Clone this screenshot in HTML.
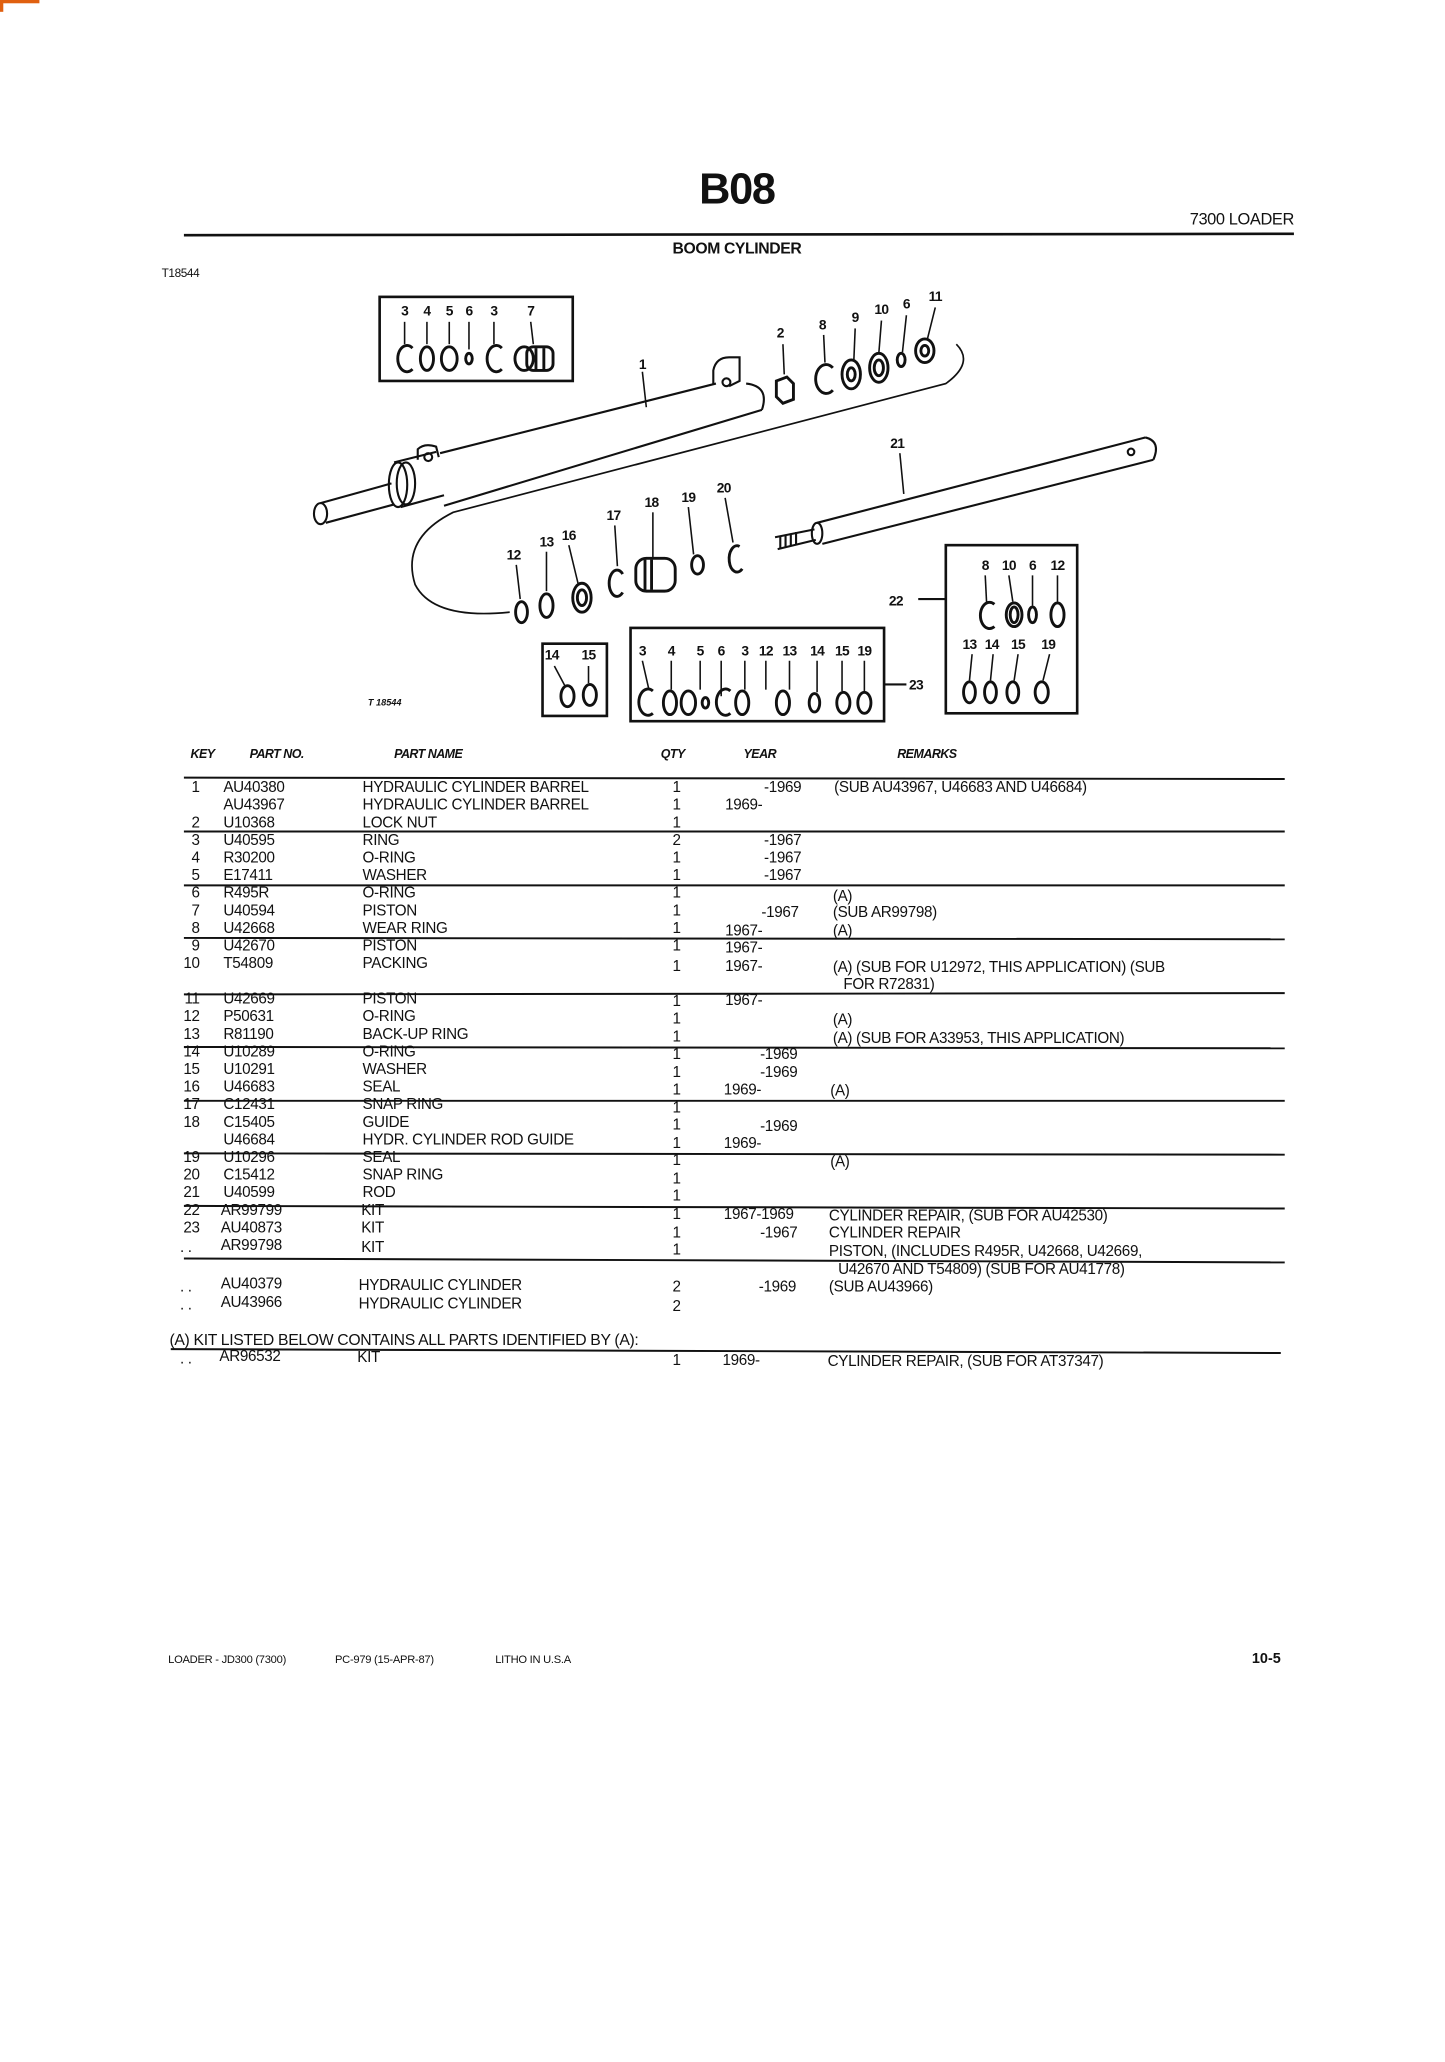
<!DOCTYPE html>
<html><head><meta charset="utf-8"><style>
html,body{margin:0;padding:0;background:#fff;}
svg{display:block;}
text{font-family:"Liberation Sans",sans-serif;fill:#111;}
.t{font-size:11.6px;letter-spacing:-0.25px;}
.n{font-size:10.5px;font-weight:bold;letter-spacing:-0.5px;}
.h{font-size:9.5px;font-style:italic;font-weight:bold;letter-spacing:-0.4px;}
</style></head><body>
<svg width="1445" height="2062" viewBox="0 0 1100 1569.7" xmlns="http://www.w3.org/2000/svg">
<rect x="0" y="0" width="30" height="2.5" fill="#e06010"/>
<rect x="0" y="0" width="2.5" height="9" fill="#e06010"/>
<!-- Header -->
<text x="561" y="155" text-anchor="middle" style="font-size:33px;font-weight:bold;letter-spacing:-1px">B08</text>
<text x="985" y="171" text-anchor="end" style="font-size:12.5px;letter-spacing:-0.3px">7300 LOADER</text>
<line x1="140" y1="179" x2="985" y2="178" stroke="#111" stroke-width="2"/>
<text x="561" y="193" text-anchor="middle" style="font-size:12px;font-weight:bold;letter-spacing:-0.3px">BOOM CYLINDER</text>
<text x="123" y="211" style="font-size:9px;letter-spacing:-0.3px">T18544</text>

<!-- Diagram -->
<g fill="none" stroke="#111" stroke-width="1.6">
<rect x="289" y="226" width="147" height="64" stroke-width="2"/>
<path d="M335,345 L545,292 M338,385 L580,312"/>
<path d="M568,292 q18,2 12,20"/>
<path d="M543,292 l0,-10 q2,-10 12,-10 l8,0 l0,18 l-8,4"/>
<circle cx="553" cy="291" r="3"/>
<path d="M300,352 l32,-8 M305,386 l33,-9"/>
<ellipse cx="303" cy="369" rx="7" ry="17"/>
<ellipse cx="309" cy="368" rx="7" ry="16"/>
<path d="M318,350 l0,-8 q5,-5 14,-2 l2,8"/>
<circle cx="326" cy="348" r="3"/>
<path d="M244,383 L298,368 M248,398 L300,384"/>
<ellipse cx="244" cy="391" rx="5" ry="8"/>
<path d="M728,262 q14,14 -8,30 L345,390 Q305,410 316,445 Q330,472 388,466" stroke-width="1.3"/>
<path d="M622,398 L872,333 M626,414 L878,350"/>
<path d="M872,333 q12,3 6,17"/>
<circle cx="861" cy="344" r="2.5"/>
<ellipse cx="622" cy="406" rx="4" ry="8"/>
<path d="M590,409 L620,403 M592,418 L621,411"/>
<path d="M594,408 l0,10 M598,407 l0,10 M602,406 l0,10 M606,405 l0,10"/>
<line x1="685" y1="345" x2="688" y2="376" stroke-width="1.2"/>
<line x1="489" y1="283" x2="492" y2="310" stroke-width="1.2"/>
<rect x="413" y="490" width="49" height="55" stroke-width="2"/>
<rect x="480" y="478" width="193" height="71" stroke-width="2"/>
<line x1="673" y1="521" x2="690" y2="521"/>
<rect x="720" y="415" width="100" height="128" stroke-width="2"/>
<line x1="699" y1="456" x2="720" y2="456"/>
</g>

<g fill="none" stroke="#111" stroke-width="2.2">
<path d="M314,265 a7,10 0 1,0 0,16"/><ellipse cx="325" cy="273" rx="5" ry="9"/><ellipse cx="342" cy="273" rx="6" ry="9"/><ellipse cx="357" cy="273" rx="2.5" ry="4"/>
<path d="M382,265 a7,10 0 1,0 0,16"/><ellipse cx="399" cy="273" rx="7" ry="9"/><rect x="401" y="264" width="20" height="18" rx="5"/>
<line x1="408" y1="265" x2="408" y2="281"/><line x1="414" y1="265" x2="414" y2="281"/>
<path d="M591,290 l8,-3 l5,5 l0,12 l-8,3 l-5,-5z"/>
<path d="M634,280 a8,11 0 1,0 0,17"/>
<ellipse cx="648" cy="285" rx="7" ry="11"/><ellipse cx="648" cy="285" rx="3" ry="5"/>
<ellipse cx="669" cy="280" rx="7" ry="11"/><ellipse cx="669" cy="280" rx="3.5" ry="6"/>
<ellipse cx="686" cy="274" rx="3" ry="5"/>
<ellipse cx="704" cy="267" rx="7" ry="9"/><ellipse cx="704" cy="267" rx="3" ry="4"/>
<ellipse cx="397" cy="466" rx="4.5" ry="8"/>
<ellipse cx="416" cy="461" rx="5" ry="9"/>
<ellipse cx="443" cy="455" rx="7" ry="11"/><ellipse cx="443" cy="455" rx="3.5" ry="6"/>
<path d="M474,437 a6,10 0 1,0 0,14"/>
<rect x="484" y="425" width="30" height="25" rx="8"/><line x1="491" y1="426" x2="491" y2="449"/><line x1="496" y1="426" x2="496" y2="449"/>
<ellipse cx="531" cy="430" rx="4.5" ry="7"/>
<path d="M563,416 a6,10 0 1,0 2,17"/>
<ellipse cx="432" cy="530" rx="5" ry="8"/><ellipse cx="449" cy="529" rx="5" ry="8"/>
<path d="M497,526 a7,10 0 1,0 0,17"/><ellipse cx="510" cy="535" rx="5" ry="9"/><ellipse cx="524" cy="535" rx="5.5" ry="9"/><ellipse cx="537" cy="535" rx="2.5" ry="4"/>
<path d="M556,526 a7,10 0 1,0 0,17"/><ellipse cx="565" cy="535" rx="5" ry="9"/><ellipse cx="596" cy="535" rx="5" ry="9"/><ellipse cx="620" cy="535" rx="4" ry="7"/><ellipse cx="642" cy="535" rx="5" ry="8"/><ellipse cx="658" cy="535" rx="5" ry="8"/>
<path d="M757,460 a7,10 0 1,0 0,17"/><ellipse cx="772" cy="468" rx="6" ry="9"/><ellipse cx="772" cy="468" rx="3" ry="6"/><ellipse cx="786" cy="468" rx="3" ry="6"/><ellipse cx="805" cy="468" rx="5" ry="9"/>
<ellipse cx="738" cy="527" rx="4.5" ry="8"/><ellipse cx="754" cy="527" rx="4.5" ry="8"/><ellipse cx="771" cy="527" rx="4.5" ry="8"/><ellipse cx="793" cy="527" rx="5" ry="8"/>
</g>

<g class="n">
<text x="308" y="240" text-anchor="middle">3</text><text x="325" y="240" text-anchor="middle">4</text><text x="342" y="240" text-anchor="middle">5</text><text x="357" y="240" text-anchor="middle">6</text><text x="376" y="240" text-anchor="middle">3</text><text x="404" y="240" text-anchor="middle">7</text>
<text x="489" y="281" text-anchor="middle">1</text>
<text x="594" y="257" text-anchor="middle">2</text><text x="626" y="251" text-anchor="middle">8</text><text x="651" y="245" text-anchor="middle">9</text><text x="671" y="239" text-anchor="middle">10</text><text x="690" y="235" text-anchor="middle">6</text><text x="712" y="229" text-anchor="middle">11</text>
<text x="683" y="341" text-anchor="middle">21</text>
<text x="391" y="426" text-anchor="middle">12</text><text x="416" y="416" text-anchor="middle">13</text><text x="433" y="411" text-anchor="middle">16</text><text x="467" y="396" text-anchor="middle">17</text><text x="496" y="386" text-anchor="middle">18</text><text x="524" y="382" text-anchor="middle">19</text><text x="551" y="375" text-anchor="middle">20</text>
<text x="420" y="502" text-anchor="middle">14</text><text x="448" y="502" text-anchor="middle">15</text>
<text x="489" y="499" text-anchor="middle">3</text><text x="511" y="499" text-anchor="middle">4</text><text x="533" y="499" text-anchor="middle">5</text><text x="549" y="499" text-anchor="middle">6</text><text x="567" y="499" text-anchor="middle">3</text><text x="583" y="499" text-anchor="middle">12</text><text x="601" y="499" text-anchor="middle">13</text><text x="622" y="499" text-anchor="middle">14</text><text x="641" y="499" text-anchor="middle">15</text><text x="658" y="499" text-anchor="middle">19</text>
<text x="692" y="525">23</text><text x="682" y="461" text-anchor="middle">22</text>
<text x="750" y="434" text-anchor="middle">8</text><text x="768" y="434" text-anchor="middle">10</text><text x="786" y="434" text-anchor="middle">6</text><text x="805" y="434" text-anchor="middle">12</text>
<text x="738" y="494" text-anchor="middle">13</text><text x="755" y="494" text-anchor="middle">14</text><text x="775" y="494" text-anchor="middle">15</text><text x="798" y="494" text-anchor="middle">19</text>
</g>
<g stroke="#111" stroke-width="1.2">
<line x1="308" y1="245" x2="308" y2="262"/><line x1="325" y1="245" x2="325" y2="262"/><line x1="342" y1="245" x2="342" y2="262"/><line x1="357" y1="245" x2="357" y2="266"/><line x1="376" y1="245" x2="376" y2="262"/><line x1="404" y1="245" x2="406" y2="262"/>
<line x1="596" y1="262" x2="597" y2="285"/><line x1="627" y1="255" x2="628" y2="276"/><line x1="651" y1="250" x2="650" y2="274"/><line x1="671" y1="244" x2="669" y2="269"/><line x1="690" y1="240" x2="687" y2="268"/><line x1="712" y1="234" x2="706" y2="258"/>
<line x1="393" y1="430" x2="396" y2="456"/><line x1="416" y1="420" x2="416" y2="450"/><line x1="433" y1="415" x2="440" y2="444"/><line x1="468" y1="400" x2="470" y2="431"/><line x1="497" y1="390" x2="497" y2="424"/><line x1="524" y1="386" x2="528" y2="422"/><line x1="552" y1="379" x2="558" y2="413"/>
<line x1="422" y1="507" x2="430" y2="522"/><line x1="448" y1="507" x2="448" y2="520"/>
<line x1="489" y1="503" x2="494" y2="525"/><line x1="511" y1="503" x2="511" y2="525"/><line x1="533" y1="503" x2="533" y2="525"/><line x1="549" y1="503" x2="549" y2="530"/><line x1="567" y1="503" x2="567" y2="525"/><line x1="583" y1="503" x2="583" y2="525"/><line x1="601" y1="503" x2="601" y2="525"/><line x1="622" y1="503" x2="622" y2="527"/><line x1="641" y1="503" x2="641" y2="526"/><line x1="658" y1="503" x2="658" y2="526"/>
<line x1="750" y1="438" x2="751" y2="458"/><line x1="768" y1="438" x2="771" y2="458"/><line x1="786" y1="438" x2="786" y2="461"/><line x1="805" y1="438" x2="805" y2="458"/>
<line x1="740" y1="498" x2="738" y2="518"/><line x1="756" y1="498" x2="754" y2="518"/><line x1="775" y1="498" x2="772" y2="518"/><line x1="799" y1="498" x2="794" y2="518"/>
</g>
<text x="280" y="537" style="font-size:7px;font-style:italic;font-weight:bold">T 18544</text>

<g class="h">
<text x="145" y="577">KEY</text><text x="190" y="577">PART NO.</text><text x="300" y="577">PART NAME</text><text x="503" y="577">QTY</text><text x="566" y="577">YEAR</text><text x="683" y="577">REMARKS</text>
</g>
<g stroke="#111" stroke-width="1.5">
<line x1="140" y1="592" x2="978" y2="593"/>
<line x1="140" y1="633" x2="978" y2="633"/>
<line x1="140" y1="674" x2="978" y2="674"/>
<line x1="140" y1="714" x2="978" y2="715"/>
<line x1="140" y1="757" x2="978" y2="756"/>
<line x1="140" y1="797" x2="978" y2="798"/>
<line x1="140" y1="838" x2="978" y2="838"/>
<line x1="140" y1="878" x2="978" y2="879"/>
<line x1="140" y1="918" x2="978" y2="920"/>
<line x1="140" y1="958" x2="978" y2="961"/>
<line x1="130" y1="1027" x2="975" y2="1030"/>
</g>
<g class="t">
<text x="152" y="603" text-anchor="end">1</text><text x="170" y="603">AU40380</text><text x="276" y="603">HYDRAULIC CYLINDER BARREL</text><text x="515" y="603" text-anchor="middle">1</text><text x="610" y="603" text-anchor="end">-1969</text><text x="635" y="603">(SUB AU43967, U46683 AND U46684)</text>
<text x="170" y="616.4">AU43967</text><text x="276" y="616.4">HYDRAULIC CYLINDER BARREL</text><text x="515" y="616.4" text-anchor="middle">1</text><text x="552" y="616.4">1969-</text>
<text x="152" y="629.8" text-anchor="end">2</text><text x="170" y="629.8">U10368</text><text x="276" y="629.8">LOCK NUT</text><text x="515" y="629.8" text-anchor="middle">1</text>
<text x="152" y="643.2" text-anchor="end">3</text><text x="170" y="643.2">U40595</text><text x="276" y="643.2">RING</text><text x="515" y="643.2" text-anchor="middle">2</text><text x="610" y="643.2" text-anchor="end">-1967</text>
<text x="152" y="656.6" text-anchor="end">4</text><text x="170" y="656.6">R30200</text><text x="276" y="656.6">O-RING</text><text x="515" y="656.6" text-anchor="middle">1</text><text x="610" y="656.6" text-anchor="end">-1967</text>
<text x="152" y="670" text-anchor="end">5</text><text x="170" y="670">E17411</text><text x="276" y="670">WASHER</text><text x="515" y="670" text-anchor="middle">1</text><text x="610" y="670" text-anchor="end">-1967</text>
<text x="152" y="683.4" text-anchor="end">6</text><text x="170" y="683.4">R495R</text><text x="276" y="683.4">O-RING</text><text x="515" y="683.4" text-anchor="middle">1</text><text x="634" y="686">(A)</text>
<text x="152" y="696.8" text-anchor="end">7</text><text x="170" y="696.8">U40594</text><text x="276" y="696.8">PISTON</text><text x="515" y="696.8" text-anchor="middle">1</text><text x="608" y="698" text-anchor="end">-1967</text><text x="634" y="698">(SUB AR99798)</text>
<text x="152" y="710.2" text-anchor="end">8</text><text x="170" y="710.2">U42668</text><text x="276" y="710.2">WEAR RING</text><text x="515" y="710.2" text-anchor="middle">1</text><text x="552" y="712">1967-</text><text x="634" y="712">(A)</text>
<text x="152" y="723.6" text-anchor="end">9</text><text x="170" y="723.6">U42670</text><text x="276" y="723.6">PISTON</text><text x="515" y="723.6" text-anchor="middle">1</text><text x="552" y="725">1967-</text>
<text x="152" y="737" text-anchor="end">10</text><text x="170" y="737">T54809</text><text x="276" y="737">PACKING</text><text x="515" y="739" text-anchor="middle">1</text><text x="552" y="739">1967-</text><text x="634" y="740">(A) (SUB FOR U12972, THIS APPLICATION) (SUB</text>
<text x="642" y="753">FOR R72831)</text>
<text x="152" y="764" text-anchor="end">11</text><text x="170" y="764">U42669</text><text x="276" y="764">PISTON</text><text x="515" y="766" text-anchor="middle">1</text><text x="552" y="765">1967-</text>
<text x="152" y="777.4" text-anchor="end">12</text><text x="170" y="777.4">P50631</text><text x="276" y="777.4">O-RING</text><text x="515" y="779" text-anchor="middle">1</text><text x="634" y="780">(A)</text>
<text x="152" y="790.8" text-anchor="end">13</text><text x="170" y="790.8">R81190</text><text x="276" y="790.8">BACK-UP RING</text><text x="515" y="793" text-anchor="middle">1</text><text x="634" y="794">(A) (SUB FOR A33953, THIS APPLICATION)</text>
<text x="152" y="804.2" text-anchor="end">14</text><text x="170" y="804.2">U10289</text><text x="276" y="804.2">O-RING</text><text x="515" y="806" text-anchor="middle">1</text><text x="607" y="806" text-anchor="end">-1969</text>
<text x="152" y="817.6" text-anchor="end">15</text><text x="170" y="817.6">U10291</text><text x="276" y="817.6">WASHER</text><text x="515" y="820" text-anchor="middle">1</text><text x="607" y="820" text-anchor="end">-1969</text>
<text x="152" y="831" text-anchor="end">16</text><text x="170" y="831">U46683</text><text x="276" y="831">SEAL</text><text x="515" y="833" text-anchor="middle">1</text><text x="551" y="833">1969-</text><text x="632" y="834">(A)</text>
<text x="152" y="844.4" text-anchor="end">17</text><text x="170" y="844.4">C12431</text><text x="276" y="844.4">SNAP RING</text><text x="515" y="847" text-anchor="middle">1</text>
<text x="152" y="857.8" text-anchor="end">18</text><text x="170" y="857.8">C15405</text><text x="276" y="857.8">GUIDE</text><text x="515" y="860" text-anchor="middle">1</text><text x="607" y="861" text-anchor="end">-1969</text>
<text x="170" y="871.2">U46684</text><text x="276" y="871.2">HYDR. CYLINDER ROD GUIDE</text><text x="515" y="874" text-anchor="middle">1</text><text x="551" y="874">1969-</text>
<text x="152" y="884.6" text-anchor="end">19</text><text x="170" y="884.6">U10296</text><text x="276" y="884.6">SEAL</text><text x="515" y="887" text-anchor="middle">1</text><text x="632" y="888">(A)</text>
<text x="152" y="898" text-anchor="end">20</text><text x="170" y="898">C15412</text><text x="276" y="898">SNAP RING</text><text x="515" y="901" text-anchor="middle">1</text>
<text x="152" y="911.4" text-anchor="end">21</text><text x="170" y="911.4">U40599</text><text x="276" y="911.4">ROD</text><text x="515" y="914" text-anchor="middle">1</text>
<text x="152" y="924.8" text-anchor="end">22</text><text x="168" y="924.8">AR99799</text><text x="275" y="924.8">KIT</text><text x="515" y="928" text-anchor="middle">1</text><text x="551" y="928">1967-1969</text><text x="631" y="929">CYLINDER REPAIR, (SUB FOR AU42530)</text>
<text x="152" y="938.2" text-anchor="end">23</text><text x="168" y="938.2">AU40873</text><text x="275" y="938.2">KIT</text><text x="515" y="942" text-anchor="middle">1</text><text x="607" y="942" text-anchor="end">-1967</text><text x="631" y="942">CYLINDER REPAIR</text>
<text x="137" y="953">. .</text><text x="168" y="951.6">AR99798</text><text x="275" y="953">KIT</text><text x="515" y="955" text-anchor="middle">1</text><text x="631" y="956">PISTON, (INCLUDES R495R, U42668, U42669,</text>
<text x="638" y="970">U42670 AND T54809) (SUB FOR AU41778)</text>
<text x="137" y="983">. .</text><text x="168" y="981">AU40379</text><text x="273" y="982">HYDRAULIC CYLINDER</text><text x="515" y="983" text-anchor="middle">2</text><text x="606" y="983" text-anchor="end">-1969</text><text x="631" y="983">(SUB AU43966)</text>
<text x="137" y="997">. .</text><text x="168" y="995">AU43966</text><text x="273" y="996">HYDRAULIC CYLINDER</text><text x="515" y="998" text-anchor="middle">2</text>
<text x="129" y="1024" style="font-size:12px">(A) KIT LISTED BELOW CONTAINS ALL PARTS IDENTIFIED BY (A):</text>
<text x="137" y="1038">. .</text><text x="167" y="1036">AR96532</text><text x="272" y="1037">KIT</text><text x="515" y="1039" text-anchor="middle">1</text><text x="550" y="1039">1969-</text><text x="630" y="1040">CYLINDER REPAIR, (SUB FOR AT37347)</text>
</g>

<text x="128" y="1266" style="font-size:8.5px;letter-spacing:-0.2px">LOADER - JD300 (7300)</text>
<text x="255" y="1266" style="font-size:8.5px;letter-spacing:-0.2px">PC-979 (15-APR-87)</text>
<text x="377" y="1266" style="font-size:8.5px;letter-spacing:-0.2px">LITHO IN U.S.A</text>
<text x="975" y="1266" text-anchor="end" style="font-size:11px;font-weight:bold">10-5</text>
</svg>
</body></html>
